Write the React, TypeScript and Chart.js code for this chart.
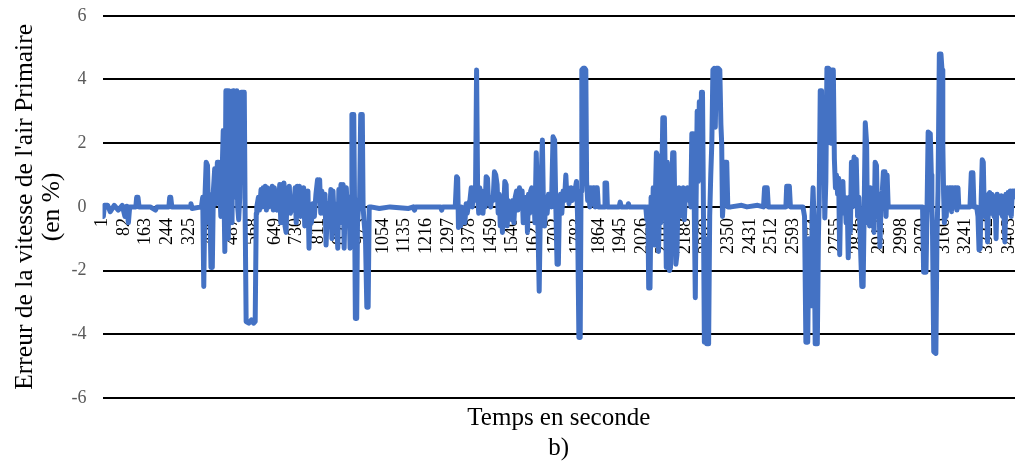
import React, { useEffect, useRef } from "react";
import { Chart, registerables } from "chart.js";

Chart.register(...registerables);

// Each pair: [sample index (s), error of primary-air speed (%)]
const calmStart: [number, number][] = [
  [1, 0], [4, -0.3], [8, 0.05], [20, 0.05], [30, -0.15], [45, 0.05], [60, -0.1], [75, 0.05], [85, -0.3], [92, 0.02],
  [98, -0.5], [103, 0], [126, 0], [129, 0.3], [134, 0.3], [138, 0], [180, 0], [200, -0.1], [205, 0], [250, 0],
  [253, 0.3], [257, 0.3], [261, 0], [330, 0], [333, 0.1], [337, -0.05], [372, 0],
];

const burst1: [number, number][] = [
  [377, 0.3], [381, -2.5], [385, 0.2], [390, 1.4], [395, 1.3], [399, -0.5], [403, 0.4], [408, -1.9], [413, -1.9], [417, 0.5],
  [422, 1.2], [427, 0.1], [432, 1.4], [437, 1.4], [441, 0.6], [445, -0.3], [449, 0.8], [454, 2.4], [457, 0.3], [460, -1.4],
  [464, 3.65], [467, 0.8], [470, 3.65], [473, -1.0], [476, 3.65], [480, 0.6], [483, 3.6], [487, -0.5], [491, 3.65], [494, 0.3],
  [498, 3.6], [502, 1.0], [505, 3.65], [508, 0], [512, -0.4], [516, 0.3], [521, 3.6], [529, 3.6], [533, 3.6], [536, 0],
  [540, -3.6], [550, -3.65], [560, -3.55], [568, -3.65], [574, -3.6], [578, -0.2],
];

const oscillation1: [number, number][] = [
  [580, 0], [586, 0.3], [590, -0.1], [596, 0.55], [600, 0], [604, 0.6], [608, 0.1], [612, 0.65], [616, -0.1], [620, 0.6],
  [625, 0], [629, 0.55], [633, 0.2], [638, 0.65], [642, -0.1], [646, 0.6], [650, 0], [656, -0.1], [662, 0], [666, 0.7],
  [670, -0.5], [674, 0.7], [678, 0], [682, 0.75], [686, -0.6], [690, -0.8], [694, 0.6], [698, 0], [702, 0.65], [706, -0.2],
  [712, 0], [718, -0.1], [724, 0.6], [728, -0.5], [732, 0.65], [736, 0.1], [740, 0.65], [744, -0.3], [748, 0.55], [752, 0.1],
  [756, 0.6], [760, -0.6], [764, 0.3], [768, -0.3], [772, 0.5], [776, -1.3], [780, -0.2], [785, -0.5], [790, 0.1], [796, -0.3],
  [802, 0.4], [808, 0.85], [812, 0.2], [816, 0.85], [820, -0.2], [824, 0.5], [830, -0.2], [836, 0.4], [840, -1.2], [846, 0.1],
  [852, -0.5], [858, 0.55], [862, -1.0], [866, 0.5], [870, -0.3], [874, 0.1], [878, -0.2], [884, -1.3], [888, 0.55], [892, 0],
  [896, 0.7], [900, -0.5], [904, 0.7], [908, -1.3], [912, 0.3], [916, 0.6], [920, -0.2], [926, 0.3], [930, -1.3], [934, -0.1],
  [937, 2.9], [944, 2.9], [947, 0], [950, -3.5], [955, -3.5], [958, -0.5], [962, 0], [966, 0.3], [970, 2.9], [976, 2.9],
  [979, 0], [983, -0.5], [988, -1.0], [993, -3.15], [998, -3.15], [1002, 0], [1008, 0],
];

const calmMiddle: [number, number][] = [
  [1040, -0.05], [1080, 0], [1150, -0.05], [1168, 0], [1172, -0.1], [1176, 0], [1270, 0], [1274, -0.1], [1278, 0], [1325, 0],
];

const burst2: [number, number][] = [
  [1330, 0.95], [1334, 0.9], [1337, -0.65], [1341, -0.3], [1345, -0.6], [1349, 0], [1353, -0.4], [1357, -0.1], [1361, -0.5], [1366, 0.1],
  [1370, -0.2], [1375, 0.1], [1380, 0.2], [1385, 0.6], [1389, 0], [1393, 0.6], [1397, 0.2], [1401, 0.5], [1405, 4.3], [1409, 0.4],
  [1413, -0.2], [1417, 0.6], [1421, 0], [1425, 0.5], [1429, -0.2], [1433, 0.3], [1437, 0], [1441, 0.95], [1446, 0.9], [1450, 0.1],
  [1454, 0.3], [1458, 0], [1462, 0.3], [1467, 0.2], [1472, 1.1], [1477, 1.0], [1482, 0.7], [1486, -0.2], [1490, 0.4], [1494, -0.6],
  [1498, 0.2], [1502, -0.8], [1506, -0.2], [1511, 0.8], [1516, 0.7], [1520, -0.6], [1524, 0.2], [1528, -0.3], [1532, 0.1], [1537, -0.4],
  [1541, 0.2], [1545, -0.5], [1550, 0.3], [1555, 0.5], [1560, -0.1], [1566, 0.6], [1571, 0.3], [1576, 0.5], [1580, -0.5], [1584, 0.2],
  [1588, -0.3], [1592, 0.3], [1596, -0.8], [1600, 0.4], [1604, -0.2], [1608, 0.5], [1612, 0.6], [1616, 0.1], [1620, 0.4], [1624, -0.5],
  [1629, 1.7], [1634, 0], [1640, -2.65], [1645, 0.2], [1652, 2.1], [1656, 0], [1660, -0.6], [1665, 0.3], [1670, -0.2], [1675, 0.4],
  [1680, 0.3], [1686, 0], [1692, 2.2], [1698, 2.1], [1702, 0.2], [1707, -1.8], [1712, -1.8], [1716, 0.1], [1720, 0.4], [1725, -0.2],
  [1730, 0.5], [1735, 0.2], [1740, 1.0], [1744, 0.3], [1748, 0.6], [1752, 0.1], [1756, 0.4], [1760, 0.6], [1764, 0.2], [1768, 0.5],
  [1772, 0.3], [1776, 0.6], [1780, 0.8], [1784, -0.3], [1789, -4.1], [1794, -4.1], [1797, 0.5], [1800, 4.3], [1805, 4.35], [1808, 3.0],
  [1811, 4.35], [1815, 4.3], [1818, 0.8], [1822, 0.2], [1826, 0.6], [1830, 0], [1834, 0.6], [1838, 0.1], [1842, 0.6], [1846, 0.6],
  [1850, 0], [1854, 0.6], [1858, 0.6], [1862, 0], [1866, 0], [1884, 0], [1887, 0.75], [1893, 0.75], [1896, 0], [1940, 0],
  [1944, 0.15], [1948, 0], [1972, 0], [1975, 0.1], [1978, 0], [2040, 0],
];

const burst3: [number, number][] = [
  [2044, -0.4], [2048, 0], [2051, -2.55], [2056, -2.55], [2060, 0.3], [2064, -0.8], [2068, 0.6], [2072, -1.2], [2076, 0.3], [2080, 1.7],
  [2085, 1.6], [2088, -1.4], [2092, 0.2], [2096, -0.5], [2100, 0.8], [2104, 2.8], [2110, 2.8], [2114, 0.4], [2117, -1.9], [2121, 1.4],
  [2125, 0.2], [2129, -2.0], [2133, -1.9], [2137, 0.3], [2141, 1.7], [2146, 1.7], [2149, 0], [2153, -1.8], [2157, -1.5], [2161, 0.2],
  [2165, 0.6], [2169, -0.3], [2173, 0.5], [2177, 0.2], [2181, 0.6], [2185, -0.4], [2189, 0.5], [2193, 0.2], [2197, 0.6], [2201, 0.3],
  [2205, 0.6], [2209, 0], [2213, 2.3], [2218, 2.3], [2222, 0], [2226, -2.85], [2229, 0.2], [2233, 3.0], [2237, 0.8], [2241, 3.3],
  [2245, 1.0], [2249, 3.6], [2253, 3.6], [2256, 0.5], [2260, -4.25], [2265, -1.0], [2269, -4.3], [2276, -4.3], [2280, -0.3], [2284, 1.0],
  [2288, 2.0], [2292, 4.3], [2297, 4.35], [2301, 2.5], [2305, 4.35], [2312, 4.35], [2318, 4.3], [2322, 2.6], [2325, 2.0], [2328, -0.3],
  [2332, 0.3], [2337, 1.4], [2344, 1.4], [2348, 0], [2360, 0],
];

const calmLate: [number, number][] = [
  [2400, 0.05], [2420, 0], [2460, 0.05], [2482, 0], [2486, 0.6], [2496, 0.6], [2500, 0], [2566, 0], [2569, 0.65], [2579, 0.65],
  [2583, 0], [2630, 0],
];

const burst4: [number, number][] = [
  [2636, -0.3], [2641, -4.25], [2648, -4.25], [2652, -1.0], [2656, -3.1], [2661, -3.1], [2664, -0.3], [2668, 0.6], [2672, -0.5], [2676, -4.3],
  [2684, -4.3], [2688, -1.0], [2691, 0.2], [2695, 3.65], [2700, 3.65], [2704, 1.0], [2708, 2.3], [2712, -0.35], [2716, 0.8], [2720, 4.35],
  [2726, 4.35], [2731, 4.3], [2735, 2.0], [2739, 4.3], [2744, 4.3], [2748, 1.5], [2752, 0.6], [2756, 1.0], [2760, 0.4], [2764, 0.9],
  [2768, -1.5], [2772, 0.5], [2776, 0.2], [2780, 0.8], [2784, -0.2], [2788, 0.3], [2792, -0.5], [2796, 0.2], [2800, -1.6], [2804, 0.3],
  [2808, -0.8], [2812, 1.4], [2816, 0], [2822, 1.57], [2826, 0.4], [2830, 1.5], [2835, -0.3], [2840, 0.3], [2845, -1.0], [2851, -2.5],
  [2856, -2.5], [2860, 0], [2864, 2.64], [2869, 2.0], [2872, -0.5], [2876, 0.5], [2880, -0.6], [2884, 0.6], [2888, -0.3], [2892, 0.2],
  [2897, -0.8], [2901, 1.4], [2906, 1.3], [2910, -0.3], [2915, 0.4], [2919, -1.25], [2923, 0], [2928, 0.5], [2932, 1.1], [2938, 1.1],
  [2942, -0.3], [2946, 1.0], [2950, 0], [2956, 0],
];

const burst5: [number, number][] = [
  [3079, 0], [3083, -2.05], [3092, -2.05], [3096, 0], [3100, 2.35], [3108, 2.3], [3112, 1.0], [3114, 0], [3116, -0.5], [3121, -4.55],
  [3129, -4.6], [3133, -1.0], [3137, 0.5], [3142, 4.8], [3148, 4.8], [3152, 4.3], [3155, 2.0], [3158, 0.4], [3161, -0.5], [3165, 0],
  [3168, -0.3], [3172, 0.6], [3176, 0], [3180, 0.6], [3184, 0.6], [3188, -0.15], [3192, 0.6], [3196, 0], [3200, 0.6], [3204, 0.6],
  [3208, -0.1], [3212, 0.6], [3215, 0], [3257, 0],
];

const tailNoise: [number, number][] = [
  [3262, 1.07], [3268, 1.07], [3272, 0], [3282, 0], [3287, -0.3], [3291, -1.35], [3295, -1.3], [3299, 0.2], [3303, 1.48], [3307, 1.4],
  [3311, -0.3], [3315, -0.3], [3319, 0.3], [3323, -1.1], [3327, 0.4], [3331, 0.45], [3335, -0.2], [3339, 0.4], [3343, 0.3], [3347, -0.3],
  [3351, 0.2], [3355, -1.0], [3359, 0.4], [3363, -0.2], [3367, 0.3], [3371, -0.2], [3375, 0.35], [3379, -0.3], [3383, 0.2], [3388, -1.1],
  [3392, 0.4], [3396, -0.2], [3400, 0.45], [3404, 0], [3408, 0.5], [3412, -0.3], [3416, 0.5], [3420, 0.3], [3424, 0.5],
];

const xTickLabels = [
  "1", "82", "163", "244", "325", "406", "487", "568", "649", "730", "811", "892", "973", "1054", "1135",
  "1216", "1297", "1378", "1459", "1540", "1621", "1702", "1783", "1864", "1945", "2026", "2107", "2188",
  "2269", "2350", "2431", "2512", "2593", "2674", "2755", "2836", "2917", "2998", "3079", "3160", "3241",
  "3322", "3403",
];

const yTitleLines = ["Erreur de la vitesse de l'air Primaire", "(en %)"];
const xTitleLines = ["Temps en seconde", "b)"];

const SERIF = '"Liberation Serif", "Times New Roman", serif';

export default function App() {
  const canvasRef = useRef<HTMLCanvasElement | null>(null);

  useEffect(() => {
    const all = [
      ...calmStart, ...burst1, ...oscillation1, ...calmMiddle, ...burst2,
      ...burst3, ...calmLate, ...burst4, ...burst5, ...tailNoise,
    ];
    const points = all.map(([x, y]) => ({ x, y }));
    const xMin = 1;
    const xMax = 3426;

    const chart = new Chart(canvasRef.current as HTMLCanvasElement, {
      type: "line",
      data: {
        datasets: [
          {
            data: points,
            borderColor: "#4472C4",
            backgroundColor: "#4472C4",
            borderWidth: 5,
            pointRadius: 0,
            tension: 0,
            fill: false,
            borderJoinStyle: "round",
            borderCapStyle: "round",
          },
        ],
      },
      options: {
        animation: false,
        responsive: true,
        maintainAspectRatio: false,
        layout: { padding: { left: 12, right: 3, top: 0, bottom: 0 } },
        plugins: {
          legend: { display: false },
          tooltip: { enabled: false },
        },
        scales: {
          x: {
            type: "linear",
            axis: "x",
            min: xMin,
            max: xMax,
            position: { y: 0 },
            grid: { display: false, drawTicks: true, tickLength: 26 },
            border: { display: false },
            afterBuildTicks: (scale: any) => {
              scale.ticks = xTickLabels.map((l) => ({ value: Number(l) }));
            },
            ticks: {
              autoSkip: false,
              minRotation: 90,
              maxRotation: 90,
              padding: -15,
              color: "#000",
              font: { family: SERIF, size: 18 },
              callback: (v: any) => String(v),
            },
          },
          xTitle: {
            type: "linear",
            axis: "x",
            min: xMin,
            max: xMax,
            position: "bottom",
            grid: { display: false, drawTicks: false },
            border: { display: false },
            ticks: { display: false },
            title: {
              display: true,
              text: xTitleLines,
              color: "#000",
              font: { family: SERIF, size: 25, lineHeight: 1.2 },
              padding: { top: 5, bottom: 1 },
            },
          },
          y: {
            min: -6,
            max: 6,
            ticks: {
              stepSize: 2,
              color: "#595959",
              padding: 5,
              font: { family: SERIF, size: 18 },
            },
            grid: { color: "#000", lineWidth: 2, drawTicks: true, tickLength: 11, tickColor: "rgba(0,0,0,0)" },
            border: { display: false },
            title: {
              display: true,
              text: yTitleLines,
              color: "#000",
              font: { family: SERIF, size: 25.5, lineHeight: 1.05 },
              padding: { top: 0, bottom: 1 },
            },
          },
        },
      },
    } as any);

    return () => chart.destroy();
  }, []);

  return (
    <div style={{ position: "fixed", left: 0, top: 0, width: 1018, height: 464, background: "#fff" }}>
      <canvas ref={canvasRef} />
    </div>
  );
}
